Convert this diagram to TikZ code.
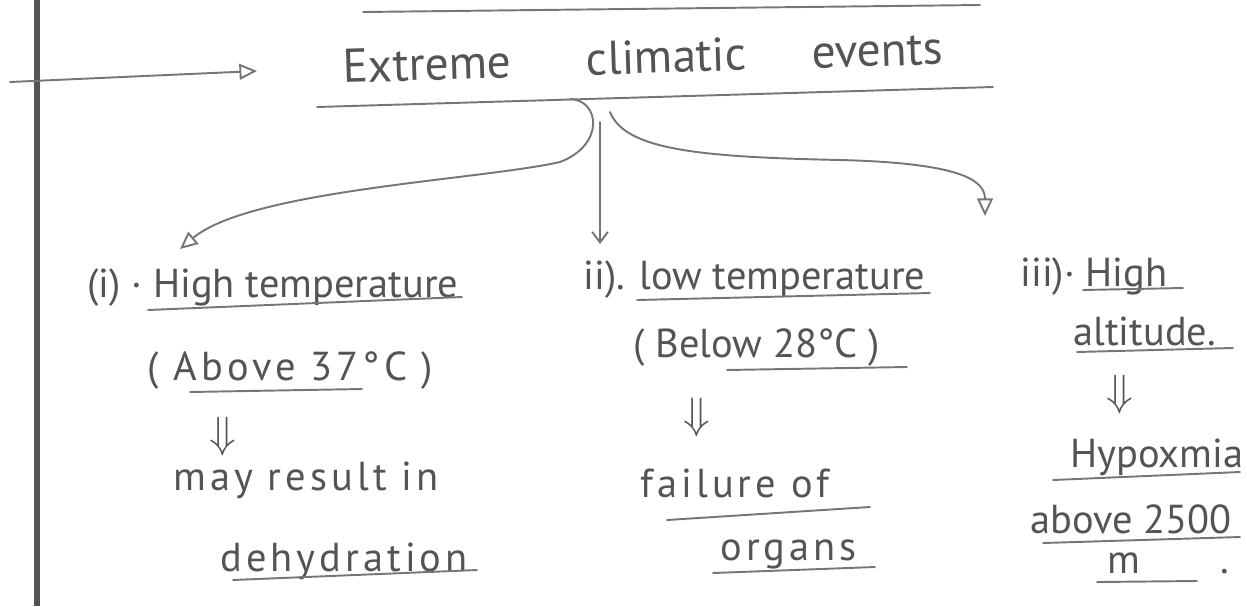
\documentclass[tikz,border=0pt]{standalone}
\usepackage{fontspec}
\setmainfont{PT Sans}
\usepackage{tikz}
\usetikzlibrary{arrows.meta, calc, positioning}
\definecolor{pencil}{RGB}{118,118,118}
\definecolor{lead}{RGB}{84,84,84}

\begin{document}
\begin{tikzpicture}[x=0.02cm, y=-0.02cm,
  note/.style={anchor=base west, inner sep=0pt, text=lead, font=\fontsize{23}{26}\selectfont},
  spread/.style={note, font=\fontsize{23}{26}\selectfont\addfontfeatures{LetterSpace=10}},
  heading/.style={note, font=\fontsize{27}{30}\selectfont},
  uline/.style={draw=pencil, line width=1.1pt, line cap=round},
  tri/.style={uline, -{Triangle[open, length=10pt, width=9pt]}},
  barb/.style={uline, -{Straight Barb[length=6pt, width=9pt]}}]
\useasboundingbox (0,0) rectangle (1247,606);
% margin rule of the page
\draw[line width=3.8pt, draw=lead] (37,0) -- (37,606);

% heading
\draw[uline] (363,12) -- (980,5);
\node[heading, rotate=1.8] (title) at (343,83) {Extreme\hspace{1.5cm}climatic\hspace{1.3cm}events};
\draw[uline] (317,107) -- (993,87);
\coordinate (edge) at (10,82);
\coordinate (point) at (257,71);
\draw[tri] (edge) -- (point);

% the three cases
\node[note] (hi) at (87,297) {(i) · High temperature};
\node[note] (lo) at (583,289) {ii). low temperature};
\node[note] (al) at (1020,286) {iii)· High};
\node[spread] (hiT) at (147,380) {( Above 37°C )};
\node[note] (loT) at (633,357) {( Below 28°C )};
\node[note] (alt) at (1073,345) {altitude.};

% branches
\coordinate (fork) at (570,99);
\coordinate (stem) at (600,122);
\coordinate (fork2) at (610,112);
\coordinate (t1) at (180,249);
\coordinate (t2) at (600,244);
\coordinate (t3) at (985,216);
\draw[tri] (fork) .. controls (600,100) and (605,145) .. (560,162)
  .. controls (480,180) and (250,190) .. (t1);
\draw[barb] (stem) -- (t2);
\draw[tri] (fork2) .. controls (625,150) and (700,157) .. (840,160)
  .. controls (960,163) and (985,180) .. (t3);

% consequences
\node[note, anchor=center] (d1) at (223,437) {$\Downarrow$};
\node[note, anchor=center] (d2) at (697,418) {$\Downarrow$};
\node[note, anchor=center] (d3) at (1120,395) {$\Downarrow$};
\node[spread] (res) at (173,490) {may result in};
\node[spread] (fail) at (640,497) {failure of};
\node[note] (hyp) at (1070,467) {Hypoxmia};
\node[spread] (dehy) at (220,571) {dehydration};
\node[spread] (org) at (720,560) {organs};
\node[note] (ab) at (1030,533) {above 2500};
\node[note] (met) at (1107,573) {m\hspace{1.6cm}.};

% underlines
\foreach \a/\b/\c/\d in {148/310/462/297, 190/392/362/389, 637/300/930/293,
  727/370/907/367, 1083/290/1183/288, 1077/352/1233/348, 233/580/477/570,
  667/520/870/507, 713/573/875/567, 1053/480/1240/472, 1043/543/1240/537,
  1097/582/1197/581}
  \draw[uline] (\a,\b) -- (\c,\d);
\end{tikzpicture}
\end{document}
